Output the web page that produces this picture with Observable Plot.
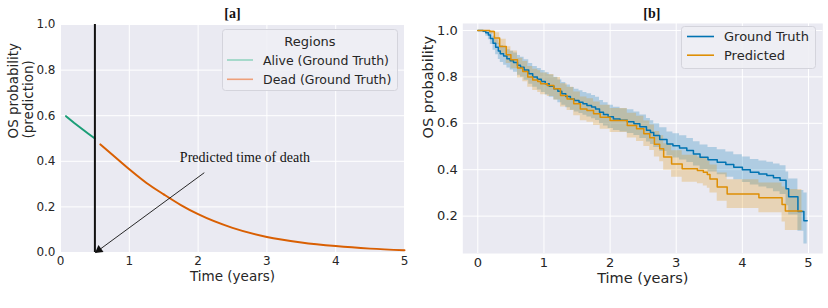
<!DOCTYPE html>
<html>
<head>
<meta charset="utf-8">
<script src="https://cdn.jsdelivr.net/npm/d3@7"></script>
<script src="https://cdn.jsdelivr.net/npm/@observablehq/plot@0.6"></script>
<style>
  html, body { margin: 0; padding: 0; background: #ffffff; }
  #wrap { position: relative; width: 828px; height: 308px; overflow: hidden; font-family: "DejaVu Sans", sans-serif; }
  #pa, #pb { position: absolute; top: 0; }
  #pa { left: 0; }
  #pb { left: 414px; }
  #leg { position: absolute; left: 0; top: 0; pointer-events: none; }
</style>
</head>
<body>
<div id="wrap">
  <div id="pa"></div>
  <div id="pb"></div>
</div>
<script>
// ---------- Panel [a] data ----------
const xTicksA = [0, 1, 2, 3, 4, 5];
const yTicksA = [0, 0.2, 0.4, 0.6, 0.8, 1.0];
const aliveT = [0.08, 0.2, 0.3, 0.4, 0.5];
const aliveS = [0.598, 0.568, 0.545, 0.522, 0.5];
const deadT = [0.58, 0.75, 1.0, 1.25, 1.5, 1.75, 2.0, 2.5, 3.0, 3.5, 4.0, 4.5, 5.0];
const deadS = [0.474, 0.43, 0.365, 0.305, 0.255, 0.208, 0.168, 0.108, 0.068, 0.044, 0.028, 0.017, 0.01];
const predictedDeathTime = [0.5];
const annotText = ["Predicted time of death"];
const annotTextPos = [1.735, 0.417];
const arrowTail = [2.09, 0.35];
const arrowHead = [0.51, 0.0];
const legendA = ["Alive (Ground Truth)", "Dead (Ground Truth)"];

// ---------- Panel [b] data ----------
const xTicksB = [0, 1, 2, 3, 4, 5];
const yTicksB = [0.2, 0.4, 0.6, 0.8, 1.0];
const gtT  = [0,0.08,0.12,0.16,0.19,0.23,0.27,0.31,0.34,0.39,0.44,0.49,0.54,0.60,0.645,0.70,0.77,0.83,0.90,0.96,1.02,1.08,1.15,1.21,1.27,1.33,1.40,1.46,1.53,1.59,1.65,1.72,1.78,1.84,1.90,1.97,2.05,2.15,2.26,2.36,2.45,2.55,2.61,2.66,2.75,2.86,2.95,3.05,3.16,3.26,3.36,3.48,3.62,3.75,3.87,4.00,4.12,4.25,4.37,4.47,4.57,4.66,4.70,4.84,4.93,4.98];
const gtS  = [1.0,0.997,0.99,0.98,0.965,0.945,0.928,0.912,0.90,0.89,0.878,0.87,0.862,0.85,0.842,0.83,0.813,0.80,0.79,0.78,0.77,0.76,0.749,0.738,0.727,0.716,0.705,0.698,0.691,0.684,0.677,0.67,0.662,0.648,0.638,0.628,0.619,0.613,0.607,0.598,0.585,0.57,0.56,0.547,0.53,0.511,0.503,0.494,0.483,0.468,0.454,0.443,0.432,0.422,0.411,0.40,0.389,0.382,0.375,0.365,0.355,0.318,0.283,0.22,0.18,0.18];
const gtLo = [1.0,0.99,0.975,0.96,0.94,0.915,0.895,0.875,0.862,0.85,0.838,0.83,0.82,0.807,0.798,0.786,0.768,0.755,0.744,0.733,0.722,0.712,0.70,0.689,0.678,0.667,0.656,0.649,0.642,0.635,0.627,0.62,0.612,0.598,0.588,0.578,0.569,0.563,0.556,0.547,0.534,0.519,0.509,0.496,0.479,0.46,0.451,0.442,0.431,0.416,0.401,0.39,0.378,0.368,0.357,0.345,0.334,0.326,0.318,0.305,0.293,0.245,0.205,0.135,0.08,0.08];
const gtHi = [1.0,1.0,1.0,0.995,0.99,0.975,0.96,0.945,0.935,0.928,0.917,0.91,0.903,0.892,0.885,0.874,0.858,0.845,0.836,0.827,0.818,0.808,0.798,0.787,0.776,0.765,0.754,0.747,0.74,0.733,0.727,0.72,0.712,0.698,0.688,0.678,0.669,0.663,0.658,0.649,0.636,0.621,0.611,0.598,0.581,0.562,0.555,0.546,0.535,0.52,0.507,0.496,0.486,0.476,0.465,0.455,0.444,0.438,0.432,0.425,0.417,0.39,0.36,0.31,0.30,0.30];
const prT  = [0,0.18,0.25,0.33,0.43,0.50,0.60,0.68,0.755,0.83,0.906,0.95,1.05,1.15,1.25,1.35,1.45,1.55,1.65,1.75,1.85,2.0,2.26,2.4,2.51,2.6,2.67,2.75,2.81,2.93,3.09,3.32,3.41,3.47,3.51,3.62,3.77,4.25,4.60,4.65,4.90];
const prS  = [1.0,0.996,0.967,0.931,0.895,0.874,0.838,0.823,0.80,0.787,0.78,0.77,0.763,0.749,0.72,0.705,0.684,0.662,0.655,0.641,0.626,0.612,0.59,0.576,0.555,0.538,0.51,0.49,0.455,0.425,0.404,0.397,0.389,0.379,0.36,0.325,0.295,0.279,0.25,0.222,0.222];
const prLo = [1.0,0.985,0.94,0.898,0.858,0.835,0.795,0.779,0.755,0.741,0.733,0.723,0.716,0.70,0.67,0.655,0.633,0.611,0.604,0.59,0.574,0.56,0.537,0.522,0.50,0.483,0.455,0.434,0.398,0.368,0.346,0.339,0.33,0.32,0.30,0.264,0.233,0.215,0.175,0.138,0.138];
const prHi = [1.0,1.0,0.99,0.962,0.93,0.912,0.88,0.866,0.845,0.833,0.826,0.817,0.81,0.797,0.77,0.755,0.735,0.713,0.706,0.692,0.678,0.664,0.643,0.63,0.61,0.593,0.565,0.546,0.512,0.482,0.462,0.455,0.448,0.438,0.42,0.386,0.357,0.343,0.325,0.315,0.315];
const legendB = ["Ground Truth", "Predicted"];

// ---------- styles ----------
const BG = "#eaeaf2";
const TXT = "#262626";
const cGreen = "#1b9e77", cOrange = "#d95f02";
const cBlue = "#0173b2", cGold = "#de8f05";

const zip = (t, s, lo, hi) => t.map((d, i) => ({t: d, s: s[i], lo: lo ? lo[i] : null, hi: hi ? hi[i] : null}));
const alive = zip(aliveT, aliveS);
const dead = zip(deadT, deadS);
const arrow = [{t1: arrowTail[0], s1: arrowTail[1], t2: arrowHead[0], s2: arrowHead[1]}];
const gt = zip(gtT, gtS, gtLo, gtHi);
const pr = zip(prT, prS, prLo, prHi);

// ---------- Panel a ----------
const plotA = Plot.plot({
  width: 414, height: 308,
  marginLeft: 60, marginRight: 10, marginTop: 24, marginBottom: 56,
  style: {fontFamily: "DejaVu Sans", fontSize: "12px", color: TXT, background: "transparent", overflow: "visible"},
  x: {domain: [0, 5]},
  y: {domain: [0, 1]},
  marks: [
    Plot.frame({fill: BG, stroke: null}),
    Plot.gridX(xTicksA, {stroke: "white", strokeOpacity: 1, strokeWidth: 1}),
    Plot.gridY(yTicksA, {stroke: "white", strokeOpacity: 1, strokeWidth: 1}),
    Plot.axisX(xTicksA, {tickSize: 0, tickPadding: 4, label: null, tickFormat: d3.format("d"), fontSize: 12}),
    Plot.axisY(yTicksA, {tickSize: 0, tickPadding: 5, label: null, tickFormat: d3.format(".1f"), fontSize: 12}),
    Plot.line(alive, {x: "t", y: "s", stroke: cGreen, strokeWidth: 2, curve: "linear"}),
    Plot.line(dead, {x: "t", y: "s", stroke: cOrange, strokeWidth: 2, curve: "monotone-x"}),
    Plot.ruleX(predictedDeathTime, {stroke: "#111", strokeWidth: 2}),
    Plot.link(arrow, {x1: "t1", y1: "s1", x2: "t2", y2: "s2", stroke: "#111", strokeWidth: 0.9}),
    Plot.dot(arrow, {x: "t2", y: "s2", symbol: "triangle", r: 3.2, fill: "#111", stroke: null, rotate: 234, dx: 3.4, dy: -2.5}),
    Plot.text(annotText, {x: () => annotTextPos[0], y: () => annotTextPos[1], text: d => d, textAnchor: "start", lineAnchor: "middle", fontFamily: "Liberation Serif", fontSize: 14, fill: "#111"}),
    Plot.text(["[a]"], {frameAnchor: "top", dy: -11, lineAnchor: "middle", text: d => d, fontFamily: "Liberation Serif", fontWeight: "bold", fontSize: 14, fill: "#111"}),
    Plot.text(["Time (years)"], {frameAnchor: "bottom", dy: 24, lineAnchor: "middle", text: d => d, fontSize: 13.5, fill: TXT}),
    Plot.text(["OS probability\n(prediction)"], {frameAnchor: "left", dx: -39.5, lineAnchor: "middle", rotate: -90, text: d => d, fontSize: 13.5, lineHeight: 1.1, fill: TXT})
  ]
});
document.getElementById("pa").appendChild(plotA);

// ---------- Panel b ----------
const plotB = Plot.plot({
  width: 414, height: 308,
  marginLeft: 48.3, marginRight: 5.7, marginTop: 23, marginBottom: 55,
  style: {fontFamily: "DejaVu Sans", fontSize: "13px", color: TXT, background: "transparent", overflow: "visible"},
  x: {domain: [-0.227, 5.216]},
  y: {domain: [0.039, 1.030]},
  marks: [
    Plot.frame({fill: BG, stroke: null}),
    Plot.gridX(xTicksB, {stroke: "white", strokeOpacity: 1, strokeWidth: 1}),
    Plot.gridY(yTicksB, {stroke: "white", strokeOpacity: 1, strokeWidth: 1}),
    Plot.axisX(xTicksB, {tickSize: 0, tickPadding: 4, label: null, tickFormat: d3.format("d"), fontSize: 13}),
    Plot.axisY(yTicksB, {tickSize: 0, tickPadding: 5, label: null, tickFormat: d3.format(".1f"), fontSize: 13}),
    Plot.areaY(gt, {x: "t", y1: "lo", y2: "hi", fill: cBlue, fillOpacity: 0.25, curve: "step-after"}),
    Plot.areaY(pr, {x: "t", y1: "lo", y2: "hi", fill: cGold, fillOpacity: 0.25, curve: "step-after"}),
    Plot.line(gt, {x: "t", y: "s", stroke: cBlue, strokeWidth: 1.5, curve: "step-after"}),
    Plot.line(pr, {x: "t", y: "s", stroke: cGold, strokeWidth: 1.5, curve: "step-after"}),
    Plot.text(["[b]"], {frameAnchor: "top", dx: 9, dy: -10, lineAnchor: "middle", text: d => d, fontFamily: "Liberation Serif", fontWeight: "bold", fontSize: 14, fill: "#111"}),
    Plot.text(["Time (years)"], {frameAnchor: "bottom", dy: 25, lineAnchor: "middle", text: d => d, fontSize: 14.5, fill: TXT}),
    Plot.text(["OS probability"], {frameAnchor: "left", dx: -34, lineAnchor: "middle", rotate: -90, text: d => d, fontSize: 14.5, fill: TXT})
  ]
});
document.getElementById("pb").appendChild(plotB);

// ---------- Legends (overlay) ----------
const ns = "http://www.w3.org/2000/svg";
const leg = document.createElementNS(ns, "svg");
leg.setAttribute("id", "leg");
leg.setAttribute("width", 828);
leg.setAttribute("height", 308);
leg.style.fontFamily = "DejaVu Sans";
function el(tag, attrs, text) {
  const e = document.createElementNS(ns, tag);
  for (const k in attrs) e.setAttribute(k, attrs[k]);
  if (text != null) e.textContent = text;
  leg.appendChild(e);
  return e;
}
// legend a
el("rect", {x: 222.5, y: 29.5, width: 175, height: 61, rx: 3, fill: "#eeeef4", "fill-opacity": 0.9, stroke: "#d4d4dc", "stroke-width": 1});
el("text", {x: 310, y: 41, "text-anchor": "middle", "dominant-baseline": "central", "font-size": 13, fill: TXT}, "Regions");
const legAColors = ["#93d3c0", "#eea07a"];
legendA.forEach((lab, i) => {
  const y = 60 + i * 19.3;
  el("line", {x1: 227, x2: 253, y1: y, y2: y, stroke: legAColors[i], "stroke-width": 1.6});
  el("text", {x: 263, y: y, "dominant-baseline": "central", "font-size": 12.5, fill: TXT}, lab);
});
// legend b
el("rect", {x: 681.5, y: 26.5, width: 134, height: 42, rx: 3, fill: "#eeeef4", "fill-opacity": 0.9, stroke: "#d4d4dc", "stroke-width": 1});
const legBColors = [cBlue, cGold];
legendB.forEach((lab, i) => {
  const y = 36.5 + i * 18.7;
  el("line", {x1: 687, x2: 714, y1: y, y2: y, stroke: legBColors[i], "stroke-width": 1.6});
  el("text", {x: 724, y: y, "dominant-baseline": "central", "font-size": 13, fill: TXT}, lab);
});
document.getElementById("wrap").appendChild(leg);
</script>
</body>
</html>
